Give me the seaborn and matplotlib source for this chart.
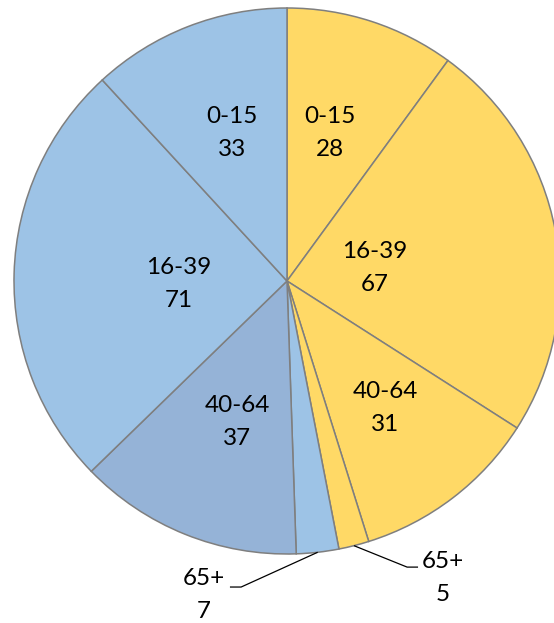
import numpy as np
import matplotlib
matplotlib.use('Agg')
import matplotlib.pyplot as plt
import seaborn as sns

# Datos
grupos = ['0-15', '16-39', '40-64', '65+']
valores_amarillo = [28, 67, 31, 5]
valores_azul = [33, 71, 37, 7]

color_amarillo = '#FFD966'
color_azul = '#9DC3E6'
color_azul_oscuro = '#95B3D7'

sns.set_theme(style='white')
plt.rcParams['font.family'] = ['Lato', 'DejaVu Sans']

# Orden en sentido horario: amarillo 0-15..65+, luego azul 65+..0-15
etiquetas = grupos + grupos[::-1]
valores = valores_amarillo + valores_azul[::-1]
colores = [color_amarillo] * 4 + [color_azul, color_azul_oscuro, color_azul, color_azul]

fig = plt.figure(figsize=(5.54, 6.23), dpi=100)
ax = fig.add_axes([0, 0, 1, 1])

wedges, _ = ax.pie(valores, colors=colores, startangle=90, counterclock=False,
                   radius=1.0, center=(0, 0),
                   wedgeprops=dict(edgecolor='#7F7F7F', linewidth=1.1))

# Distancia (fraccion del radio) y ajuste de angulo de la etiqueta por porcion
dist = [0.565, 0.326, 0.588, None, None, 0.548, 0.396, 0.578]
ajuste = [1.8, -2.2, 0.3, 0, 0, 2.5, 3.2, -0.9]
for w, lab, val, d, aj in zip(wedges, etiquetas, valores, dist, ajuste):
    ang = np.deg2rad((w.theta1 + w.theta2) / 2 + aj)
    if d is not None:
        ax.text(d * np.cos(ang), d * np.sin(ang), f'{lab}\n{val}',
                ha='center', va='center', fontsize=17.5, linespacing=1.68,
                color='black')

# Etiquetas externas para 65+
externas = {3: (0.44, -1.048, 0.48, 0.571, -1.087),
            4: (-0.168, -1.121, -0.209, -0.304, -1.150)}
for i, (ex, ey, hx, tx, ty) in externas.items():
    w = wedges[i]
    ang = np.deg2rad((w.theta1 + w.theta2) / 2)
    px, py = np.cos(ang), np.sin(ang)
    ax.plot([px, ex, hx], [py, ey, ey], color='black', linewidth=0.9,
            solid_capstyle='butt')
    ax.text(tx, ty, f'{etiquetas[i]}\n{valores[i]}', ha='center', va='center',
            fontsize=17.5, linespacing=1.68, color='black')

ax.set_xlim(-287 / 273, (554 - 287) / 273)
ax.set_ylim(-(623 - 281) / 273, 281 / 273)
ax.set_aspect('auto')
ax.axis('off')

fig.savefig('out.png', dpi=100)
